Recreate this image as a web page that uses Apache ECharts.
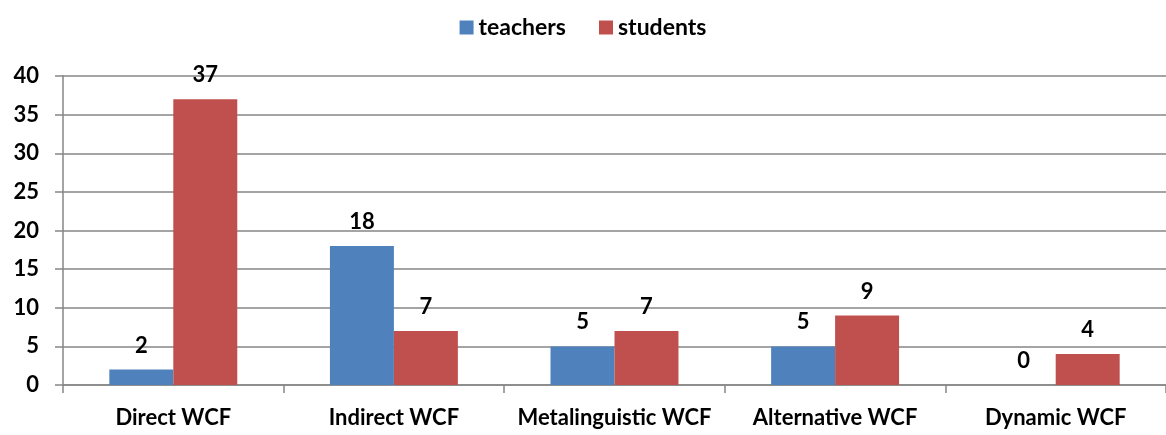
<!DOCTYPE html>
<html><head><meta charset="utf-8">
<script src="https://cdn.jsdelivr.net/npm/echarts@6/dist/echarts.min.js"></script>
<style>html,body{margin:0;padding:0;background:#fff}#c{width:1166px;height:435px}</style>
</head><body><div id="c"></div>
<script>
const categories = ["Direct WCF", "Indirect WCF", "Metalinguistic WCF", "Alternative WCF", "Dynamic WCF"];
const teachers = [2, 18, 5, 5, 0];
const students = [37, 7, 7, 9, 4];
const seriesNames = ["teachers", "students"];
const font = "Lato, 'Open Sans', sans-serif";
const chart = echarts.init(document.getElementById('c'));
const lbl = {show: true, position: 'top', distance: 13, color: '#000', fontWeight: 'bold', fontSize: 22, fontFamily: font};
chart.setOption({
  animation: false,
  legend: {top: 11, left: 'center', icon: 'rect', itemWidth: 14, itemHeight: 14, itemGap: 33,
    textStyle: {fontFamily: font, fontWeight: 'bold', fontSize: 23, color: '#000'},
    data: seriesNames},
  grid: {left: 63, right: 0, top: 76, bottom: 50},
  xAxis: {type: 'category', data: categories,
    axisLine: {lineStyle: {color: '#868686', width: 1.5}},
    axisTick: {show: true, length: 8, lineStyle: {color: '#868686', width: 1.5}},
    axisLabel: {interval: 0, hideOverlap: false, margin: 22, color: '#000', fontWeight: 'bold', fontSize: 22, fontFamily: font}},
  yAxis: {type: 'value', min: 0, max: 40, interval: 5,
    axisLine: {show: true, lineStyle: {color: '#868686', width: 1.5}},
    axisTick: {show: true, length: 8, lineStyle: {color: '#868686', width: 1.5}},
    splitLine: {lineStyle: {color: '#868686', width: 1.5}},
    axisLabel: {margin: 24, color: '#000', fontWeight: 'bold', fontSize: 22, fontFamily: font}},
  series: [
    {name: seriesNames[0], type: 'bar', data: teachers, barWidth: '29%', barGap: '0%',
     itemStyle: {color: '#4F81BD'}, label: lbl},
    {name: seriesNames[1], type: 'bar', data: students, barWidth: '29%', barGap: '0%',
     itemStyle: {color: '#C0504D'}, label: lbl}
  ]
});
</script></body></html>
